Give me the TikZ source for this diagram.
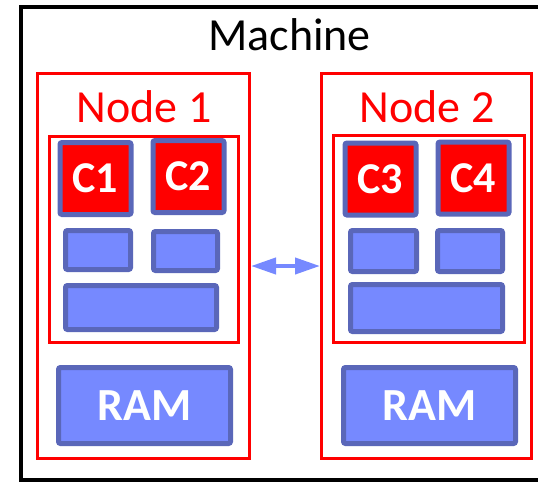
\documentclass[tikz,border=0pt]{standalone}
\usepackage{fontspec}
\setmainfont{Carlito}
\usetikzlibrary{arrows.meta, positioning}

\definecolor{partblue}{RGB}{118,137,255}
\definecolor{partedge}{RGB}{90,103,185}

\begin{document}
\begin{tikzpicture}[
  x=1pt, y=-1pt,
  numabox/.style={rectangle, draw=red, line width=3pt, inner sep=0pt},
  part/.style={rectangle, rounded corners=2pt, draw=partedge, fill=partblue,
               line width=5pt, inner sep=0pt, text=white,
               font=\fontsize{46}{50}\selectfont\bfseries},
  core/.style={part, fill=red, font=\fontsize{44}{48}\selectfont\bfseries,
               minimum width=71pt, minimum height=72pt},
  title/.style={anchor=base, inner sep=0pt, font=\fontsize{46}{50}\selectfont},
  link/.style={{Triangle[length=25pt, width=16pt]}-{Triangle[length=25pt, width=16pt]},
               draw=partblue, line width=4pt}
]
\useasboundingbox (0,0) rectangle (538,482);
\draw[line width=4pt] (538,7) -- (21,7) -- (21,480) -- (538,480);
\node[title] (machine) at (289.5,50) {Machine};

\node[numabox, minimum width=212pt, minimum height=385pt] (numa1) at (143.5,266) {};
\node[title, text=red] (lbl1) at (144,122) {Node 1};
\node[numabox, minimum width=189pt, minimum height=206pt] (sock1) at (144,239.5) {};
\node[core] (c1) at (95.5,178.5) {C1};
\node[core] (c2) at (188.5,176.5) {C2};
\node[part, minimum width=65pt, minimum height=39pt] (l2a) at (98,250) {};
\node[part, minimum width=64pt, minimum height=39pt] (l2b) at (185.5,251) {};
\node[part, minimum width=151pt, minimum height=44pt] (l3a) at (141,307.5) {};
\node[part, minimum width=172pt, minimum height=76pt] (ram1) at (144.5,405.5) {RAM};

\node[numabox, minimum width=210pt, minimum height=385pt] (numa2) at (426.5,266) {};
\node[title, text=red] (lbl2) at (427,122) {Node 2};
\node[numabox, minimum width=191pt, minimum height=207pt] (sock2) at (429,239) {};
\node[core] (c3) at (380.5,179) {C3};
\node[core] (c4) at (473.5,178) {C4};
\node[part, minimum width=66pt, minimum height=41pt] (l2c) at (383.5,251) {};
\node[part, minimum width=65pt, minimum height=41pt] (l2d) at (470,251) {};
\node[part, minimum width=152pt, minimum height=47pt] (l3b) at (426.5,308) {};
\node[part, minimum width=172pt, minimum height=76pt] (ram2) at (429.5,405.5) {RAM};

\draw[link] (numa1) -- (numa2);
\end{tikzpicture}
\end{document}
